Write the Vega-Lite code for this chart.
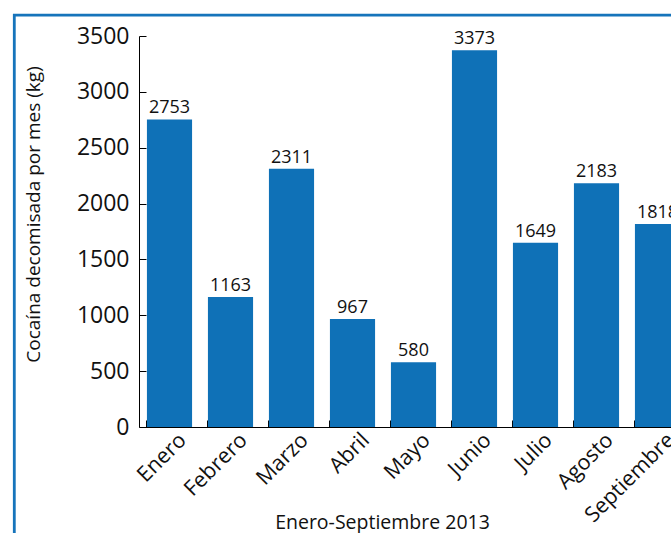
{
  "$schema": "https://vega.github.io/schema/vega-lite/v6.json",
  "autosize": "none",
  "width": 549,
  "height": 391,
  "padding": {"left": 139, "top": 36, "right": 0, "bottom": 106},
  "background": "white",
  "config": {
    "font": "Open Sans",
    "view": {"stroke": null},
    "legend": {"strokeWidth": 2.8, "strokeColor": "#1674bb"}
  },
  "data": {
    "values": [
      {"mes": "Enero", "kg": 2753},
      {"mes": "Febrero", "kg": 1163},
      {"mes": "Marzo", "kg": 2311},
      {"mes": "Abril", "kg": 967},
      {"mes": "Mayo", "kg": 580},
      {"mes": "Junio", "kg": 3373},
      {"mes": "Julio", "kg": 1649},
      {"mes": "Agosto", "kg": 2183},
      {"mes": "Septiembre", "kg": 1818}
    ]
  },
  "resolve": {"axis": {"x": "independent", "y": "independent"}},
  "layer": [
    {
      "mark": {"type": "bar", "color": "#0f71b7"},
      "encoding": {
        "x": {
          "field": "mes",
          "type": "nominal",
          "sort": null,
          "scale": {"paddingInner": 0.26, "paddingOuter": 0.13},
          "axis": {
            "title": "Enero-Septiembre 2013",
            "titleFont": "Open Sans",
            "titleFontSize": 19.5,
            "titleFontWeight": "normal",
            "titleColor": "#111",
            "titleX": 243,
            "titleY": 95,
            "titleBaseline": "middle",
            "labelAngle": -45,
            "labelFontSize": 21.5,
            "labelColor": "#111",
            "labelPadding": 2,
            "labelOffset": 6,
            "domainColor": "#000",
            "ticks": false
          }
        },
        "y": {
          "field": "kg",
          "type": "quantitative",
          "scale": {"domain": [0, 3500], "nice": false},
          "axis": {
            "title": "Cocaína decomisada por mes  (kg)",
            "titleFont": "Open Sans",
            "titleFontSize": 19,
            "titleFontWeight": "normal",
            "titleColor": "#111",
            "titleX": -106,
            "titleY": 178,
            "titleAngle": -90,
            "titleAlign": "center",
            "titleBaseline": "middle",
            "values": [0, 500, 1000, 1500, 2000, 2500, 3000, 3500],
            "format": "d",
            "labelFontSize": 23,
            "labelColor": "#111",
            "labelPadding": 10,
            "labelFlush": false,
            "ticks": false,
            "domainColor": "#000",
            "grid": false
          }
        }
      }
    },
    {
      "mark": {"type": "text", "baseline": "alphabetic", "dy": -6, "fontSize": 18, "color": "#111"},
      "encoding": {
        "x": {"field": "mes", "type": "nominal", "sort": null, "axis": null},
        "y": {"field": "kg", "type": "quantitative", "axis": null},
        "text": {"field": "kg", "type": "quantitative", "format": "d"}
      }
    },
    {
      "mark": {"type": "bar", "opacity": 0},
      "encoding": {
        "x": {
          "field": "mes",
          "type": "nominal",
          "sort": null,
          "axis": {
            "orient": "top",
            "offset": -391,
            "title": null,
            "labels": false,
            "domain": false,
            "ticks": true,
            "bandPosition": 0,
            "tickSize": 7,
            "tickColor": "#000"
          }
        },
        "y": {
          "field": "kg",
          "type": "quantitative",
          "axis": {
            "orient": "right",
            "offset": -549,
            "title": null,
            "labels": false,
            "domain": false,
            "grid": false,
            "values": [0, 500, 1000, 1500, 2000, 2500, 3000, 3500],
            "tickSize": 7,
            "tickColor": "#000"
          }
        },
        "color": {
          "datum": "marco",
          "scale": {"range": ["#0f71b7"]},
          "legend": {
            "orient": "none",
            "legendX": -124.7,
            "legendY": -20.8,
            "title": null,
            "padding": 345,
            "strokeColor": "#1674bb",
            "symbolOpacity": 0,
            "symbolStrokeWidth": 0,
            "labelExpr": "''",
            "labelOpacity": 0
          }
        }
      }
    }
  ]
}
